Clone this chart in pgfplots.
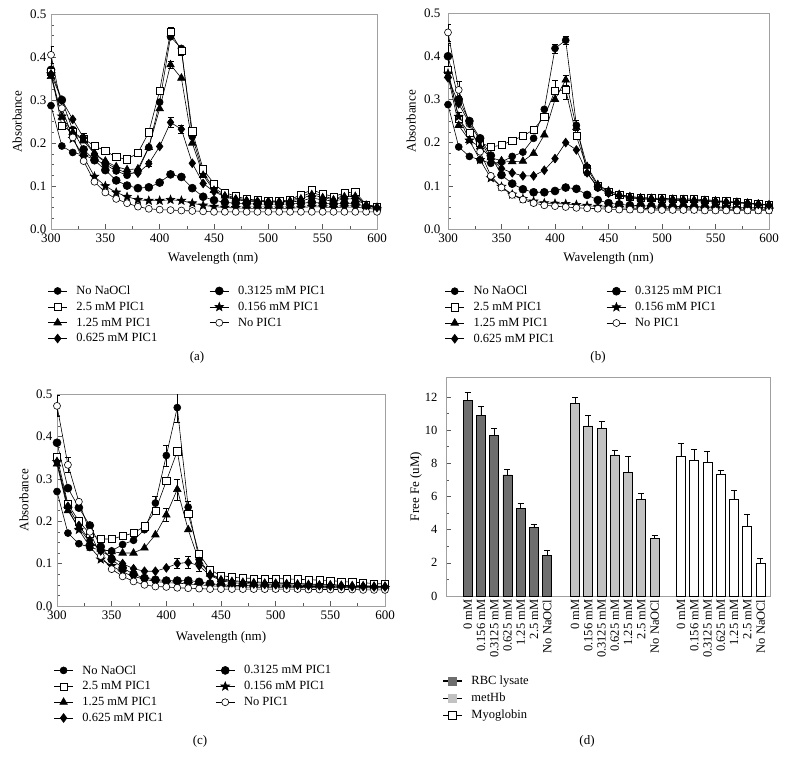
\documentclass[border=0pt]{standalone}
\usepackage{fontspec}
\setmainfont{Liberation Serif}
\usepackage{pgfplots}
\pgfplotsset{compat=1.18}
\usepackage{pgfplotstable}
\usetikzlibrary{plotmarks}
\definecolor{rbc}{HTML}{6E6E6E}
\definecolor{methb}{HTML}{C2C2C2}
\definecolor{frame}{HTML}{A0A0A0}

\pgfdeclareplotmark{fstar}{%
  \pgfpathmoveto{\pgfpointpolar{90}{1.3\pgfplotmarksize}}%
  \pgfpathlineto{\pgfpointpolar{126}{0.55\pgfplotmarksize}}%
  \pgfpathlineto{\pgfpointpolar{162}{1.3\pgfplotmarksize}}%
  \pgfpathlineto{\pgfpointpolar{198}{0.55\pgfplotmarksize}}%
  \pgfpathlineto{\pgfpointpolar{234}{1.3\pgfplotmarksize}}%
  \pgfpathlineto{\pgfpointpolar{270}{0.55\pgfplotmarksize}}%
  \pgfpathlineto{\pgfpointpolar{306}{1.3\pgfplotmarksize}}%
  \pgfpathlineto{\pgfpointpolar{342}{0.55\pgfplotmarksize}}%
  \pgfpathlineto{\pgfpointpolar{18}{1.3\pgfplotmarksize}}%
  \pgfpathlineto{\pgfpointpolar{54}{0.55\pgfplotmarksize}}%
  \pgfpathclose
  \pgfusepathqfillstroke
}

\pgfplotstableread{
x nona p25 p125 p0625 p03125 p0156 nopic
300 0.287 0.365 0.355 0.360 0.370 0.360 0.405
310 0.193 0.240 0.260 0.300 0.300 0.262 0.281
320 0.178 0.225 0.225 0.255 0.230 0.210 0.213
330 0.172 0.210 0.205 0.212 0.185 0.168 0.158
340 0.162 0.193 0.175 0.175 0.160 0.122 0.110
350 0.150 0.182 0.158 0.155 0.137 0.100 0.085
360 0.135 0.167 0.145 0.140 0.113 0.085 0.070
370 0.125 0.162 0.138 0.130 0.101 0.075 0.060
380 0.135 0.177 0.140 0.130 0.095 0.068 0.052
390 0.190 0.225 0.190 0.152 0.097 0.066 0.047
400 0.295 0.322 0.280 0.192 0.108 0.066 0.045
410 0.447 0.458 0.382 0.248 0.127 0.068 0.044
420 0.420 0.415 0.351 0.232 0.121 0.066 0.043
430 0.215 0.227 0.200 0.153 0.095 0.060 0.042
440 0.130 0.139 0.125 0.106 0.075 0.055 0.041
450 0.095 0.105 0.090 0.087 0.067 0.052 0.040
460 0.080 0.085 0.077 0.075 0.062 0.050 0.040
470 0.072 0.076 0.070 0.068 0.060 0.049 0.040
480 0.068 0.070 0.066 0.065 0.059 0.048 0.040
490 0.066 0.067 0.064 0.064 0.058 0.048 0.040
500 0.065 0.066 0.063 0.063 0.058 0.048 0.040
510 0.064 0.065 0.063 0.062 0.058 0.048 0.040
520 0.066 0.068 0.065 0.063 0.058 0.048 0.040
530 0.075 0.080 0.070 0.065 0.060 0.050 0.040
540 0.085 0.091 0.080 0.072 0.062 0.052 0.040
550 0.077 0.082 0.073 0.068 0.060 0.051 0.040
560 0.070 0.075 0.068 0.065 0.058 0.050 0.040
570 0.078 0.084 0.075 0.070 0.060 0.051 0.040
580 0.080 0.086 0.076 0.070 0.060 0.051 0.040
590 0.056 0.057 0.055 0.055 0.052 0.048 0.040
600 0.052 0.052 0.050 0.050 0.050 0.046 0.040
}\tabA

\pgfplotstableread{
x nona p25 p125 p0625 p03125 p0156 nopic
300 0.288 0.368 0.355 0.350 0.400 0.360 0.455
310 0.190 0.255 0.240 0.290 0.300 0.260 0.322
320 0.168 0.222 0.205 0.245 0.250 0.205 0.243
330 0.160 0.200 0.190 0.205 0.210 0.160 0.179
340 0.152 0.190 0.165 0.163 0.170 0.118 0.123
350 0.155 0.194 0.158 0.140 0.125 0.098 0.096
360 0.168 0.205 0.156 0.130 0.105 0.080 0.079
370 0.178 0.215 0.157 0.123 0.092 0.070 0.068
380 0.210 0.230 0.175 0.123 0.085 0.064 0.060
390 0.277 0.260 0.218 0.136 0.085 0.060 0.055
400 0.418 0.320 0.300 0.163 0.088 0.059 0.053
410 0.437 0.322 0.345 0.200 0.096 0.058 0.051
420 0.240 0.215 0.235 0.183 0.093 0.056 0.049
430 0.130 0.140 0.145 0.130 0.079 0.054 0.048
440 0.095 0.100 0.103 0.097 0.067 0.052 0.047
450 0.083 0.087 0.088 0.083 0.060 0.050 0.046
460 0.077 0.080 0.080 0.077 0.057 0.049 0.045
470 0.073 0.075 0.075 0.072 0.055 0.048 0.045
480 0.070 0.073 0.072 0.070 0.054 0.048 0.045
490 0.069 0.072 0.071 0.069 0.053 0.047 0.044
500 0.068 0.071 0.070 0.068 0.053 0.047 0.044
510 0.067 0.070 0.069 0.067 0.052 0.047 0.044
520 0.066 0.070 0.068 0.066 0.052 0.047 0.044
530 0.066 0.069 0.067 0.065 0.052 0.046 0.044
540 0.065 0.068 0.066 0.064 0.051 0.046 0.043
550 0.064 0.066 0.065 0.063 0.051 0.046 0.043
560 0.062 0.064 0.063 0.062 0.051 0.046 0.043
570 0.061 0.062 0.062 0.061 0.050 0.045 0.043
580 0.059 0.060 0.060 0.059 0.050 0.045 0.043
590 0.057 0.058 0.058 0.057 0.050 0.045 0.043
600 0.055 0.056 0.056 0.055 0.049 0.045 0.043
}\tabB

\pgfplotstableread{
x nona p25 p125 p0625 p03125 p0156 nopic
300 0.270 0.352 0.335 0.340 0.385 0.340 0.472
310 0.172 0.240 0.225 0.235 0.278 0.230 0.333
320 0.147 0.200 0.185 0.190 0.232 0.180 0.246
330 0.138 0.170 0.150 0.155 0.190 0.140 0.175
340 0.132 0.158 0.135 0.130 0.140 0.110 0.118
350 0.130 0.158 0.128 0.115 0.110 0.095 0.087
360 0.145 0.165 0.125 0.100 0.090 0.080 0.070
370 0.155 0.172 0.125 0.088 0.075 0.070 0.058
380 0.180 0.188 0.137 0.082 0.066 0.063 0.050
390 0.243 0.225 0.168 0.082 0.062 0.058 0.046
400 0.355 0.295 0.215 0.090 0.060 0.055 0.045
410 0.468 0.365 0.275 0.100 0.060 0.054 0.043
420 0.233 0.217 0.180 0.103 0.060 0.052 0.042
430 0.110 0.123 0.105 0.095 0.057 0.050 0.041
440 0.075 0.085 0.075 0.072 0.053 0.048 0.040
450 0.065 0.072 0.062 0.060 0.050 0.046 0.040
460 0.060 0.068 0.058 0.055 0.049 0.045 0.040
470 0.058 0.066 0.056 0.053 0.048 0.045 0.040
480 0.057 0.065 0.055 0.052 0.048 0.044 0.040
490 0.056 0.065 0.054 0.051 0.047 0.044 0.040
500 0.055 0.065 0.054 0.050 0.047 0.044 0.040
510 0.054 0.064 0.053 0.050 0.047 0.044 0.040
520 0.053 0.063 0.052 0.049 0.046 0.044 0.040
530 0.052 0.062 0.051 0.048 0.046 0.043 0.039
540 0.051 0.061 0.050 0.048 0.046 0.043 0.039
550 0.050 0.060 0.050 0.047 0.045 0.043 0.039
560 0.049 0.058 0.049 0.047 0.045 0.043 0.039
570 0.048 0.056 0.048 0.046 0.045 0.043 0.039
580 0.047 0.055 0.048 0.046 0.045 0.043 0.038
590 0.046 0.053 0.047 0.045 0.045 0.043 0.038
600 0.045 0.052 0.047 0.045 0.045 0.043 0.038
}\tabC

\pgfplotsset{
  /pgf/number format/assume math mode=true,
  ser/.style={black, line width=0.6pt, mark options={solid}},
  snona/.style={mark=*, mark size=3.5pt},
  s25/.style={mark=square*, mark size=3.6pt, mark options={fill=white}},
  s125/.style={mark=triangle*, mark size=4.4pt},
  s0625/.style={mark=diamond*, mark size=4.4pt},
  s03125/.style={mark=*, mark size=4pt},
  s0156/.style={mark=fstar, mark size=3.5pt},
  snopic/.style={mark=*, mark size=3.5pt, mark options={fill=white}},
  legimg/.style={legend image code/.code={%
     \draw[line width=0.9pt] (0pt,0pt) -- (19pt,0pt);
     \draw[mark repeat=2, mark phase=2] plot coordinates {(0pt,0pt) (9.5pt,0pt) (19pt,0pt)};
     \path (26pt,0pt);}},
  errs/.style={black, line width=0.5pt, only marks, mark=none,
    error bars/y dir=both, error bars/y explicit,
    error bars/error mark options={rotate=90, mark size=3pt, black, line width=0.5pt}},
  spec/.style={
    scale only axis, anchor=south west,
    xmin=300, xmax=600, ymin=0, ymax=0.5,
    xtick={300,350,400,450,500,550,600}, minor x tick num=1,
    ytick={0,0.1,0.2,0.3,0.4,0.5}, minor y tick num=3,
    tick align=inside, xtick pos=bottom, ytick pos=left,
    axis line style={frame, line width=0.8pt},
    every tick/.style={gray!70!black, line width=0.5pt},
    major tick length=5pt, minor tick length=3pt,
    yticklabel style={/pgf/number format/fixed, /pgf/number format/fixed zerofill, /pgf/number format/precision=1},
    tick label style={font=\fontsize{13}{15}\selectfont},
    xticklabel style={yshift=-1.5pt},
    label style={font=\fontsize{13}{15}\selectfont},
    xlabel={Wavelength (nm)}, ylabel={Absorbance},
    legend columns=2, legend cell align=left,
    legend style={draw=none, fill=none, anchor=north west,
      font=\fontsize{12.5}{13.5}\selectfont, row sep=2pt,
      /tikz/every even column/.append style={column sep=50pt}},
  },
}

\newcommand{\specplots}[1]{%
  \addplot[ser, snona, legimg] table[x=x, y=nona]{#1}; \addlegendentry{No NaOCl}
  \addplot[ser, s03125, legimg] table[x=x, y=p03125]{#1}; \addlegendentry{0.3125 mM PIC1}
  \addplot[ser, s25, legimg] table[x=x, y=p25]{#1}; \addlegendentry{2.5 mM PIC1}
  \addplot[ser, s0156, legimg] table[x=x, y=p0156]{#1}; \addlegendentry{0.156 mM PIC1}
  \addplot[ser, s125, legimg] table[x=x, y=p125]{#1}; \addlegendentry{1.25 mM PIC1}
  \addplot[ser, snopic, legimg] table[x=x, y=nopic]{#1}; \addlegendentry{No PIC1}
  \addplot[ser, s0625, legimg] table[x=x, y=p0625]{#1}; \addlegendentry{0.625 mM PIC1}
}

\begin{document}
\begin{tikzpicture}[font=\fontsize{13}{15}\selectfont]
\path[use as bounding box] (0,0) rectangle (786pt,-766pt);

% ---------- (a)
\begin{axis}[spec, at={(51pt,-229pt)}, width=326pt, height=215pt,
  yticklabel style={xshift=-1pt},
  every axis y label/.style={at={(axis description cs:-0.104,0.5)}, rotate=90, anchor=center},
  every axis x label/.style={at={(axis description cs:0.497,-0.135)}, anchor=center},
  legend style={at={(-0.02,-0.245)}}]
\addplot[forget plot, errs] coordinates {
 (300,0.405) +- (0,0.02) (300,0.370) +- (0,0.015) (330,0.212) +- (0,0.01)
 (340,0.193) +- (0,0.006) (410,0.458) +- (0,0.012) (420,0.415) +- (0,0.01)
 (410,0.382) +- (0,0.008) (410,0.248) +- (0,0.012) (420,0.232) +- (0,0.01)
 (390,0.152) +- (0,0.006)};
\specplots{\tabA}
\end{axis}

% ---------- (b)
\begin{axis}[spec, at={(448pt,-229pt)}, width=321pt, height=216pt,
  yticklabel style={xshift=-4pt},
  every axis y label/.style={at={(axis description cs:-0.115,0.5)}, rotate=90, anchor=center},
  every axis x label/.style={at={(axis description cs:0.5,-0.135)}, anchor=center},
  legend style={at={(-0.02,-0.245)}}]
\addplot[forget plot, errs] coordinates {
 (300,0.455) +- (0,0.02) (300,0.400) +- (0,0.03) (310,0.322) +- (0,0.02)
 (310,0.255) +- (0,0.015) (400,0.418) +- (0,0.01) (410,0.437) +- (0,0.01)
 (400,0.320) +- (0,0.025) (410,0.322) +- (0,0.022) (410,0.345) +- (0,0.012)
 (420,0.240) +- (0,0.012) (430,0.140) +- (0,0.01)};
\specplots{\tabB}
\end{axis}

% ---------- (c)
\begin{axis}[spec, at={(57pt,-606pt)}, width=328pt, height=212pt,
  yticklabel style={xshift=-1pt},
  every axis y label/.style={at={(axis description cs:-0.101,0.5)}, rotate=90, anchor=center},
  every axis x label/.style={at={(axis description cs:0.5,-0.15)}, anchor=center},
  legend style={at={(-0.02,-0.26)}}]
\addplot[forget plot, errs] coordinates {
 (300,0.472) +- (0,0.025) (310,0.333) +- (0,0.018) (390,0.243) +- (0,0.015)
 (400,0.355) +- (0,0.025) (410,0.468) +- (0,0.035) (410,0.365) +- (0,0.01)
 (410,0.275) +- (0,0.025) (400,0.215) +- (0,0.015) (420,0.233) +- (0,0.015)
 (410,0.100) +- (0,0.012) (420,0.103) +- (0,0.015) (430,0.095) +- (0,0.012)};
\specplots{\tabC}
\end{axis}

% ---------- (d)
\begin{axis}[scale only axis, anchor=south west, at={(446pt,-596pt)},
  width=324pt, height=219pt,
  xmin=-1.64, xmax=22.82, ymin=0, ymax=13.2,
  ytick={0,2,4,6,8,10,12}, minor y tick num=1,
  xtick={0,1,2,3,4,5,6,8.1,9.1,10.1,11.1,12.1,13.1,14.1,16.1,17.1,18.1,19.1,20.1,21.1,22.1},
  xticklabels={0 mM,0.156 mM,0.3125 mM,0.625 mM,1.25 mM,2.5 mM,No NaOCl,
               0 mM,0.156 mM,0.3125 mM,0.625 mM,1.25 mM,2.5 mM,No NaOCl,
               0 mM,0.156 mM,0.3125 mM,0.625 mM,1.25 mM,2.5 mM,No NaOCl},
  xticklabel style={rotate=90, anchor=east},
  xtick style={draw=none},
  tick align=inside, ytick pos=left,
  axis line style={frame, line width=0.8pt},
  every tick/.style={gray!70!black, line width=0.5pt},
  major tick length=5pt, minor tick length=3pt,
  tick label style={font=\fontsize{12.5}{14}\selectfont},
  yticklabel style={xshift=-5pt},
  label style={font=\fontsize{13}{15}\selectfont},
  ylabel={Free Fe (uM)},
  every axis y label/.style={at={(axis description cs:-0.093,0.5)}, rotate=90, anchor=center},
  legend columns=1, legend cell align=left,
  legend style={draw=none, fill=none, anchor=north west, at={(-0.02,-0.345)},
    font=\fontsize{12.5}{13.5}\selectfont, row sep=3pt},
  ]
\addplot[forget plot, ybar, bar width=9pt, bar shift=0pt, fill=rbc, draw=black, line width=0.6pt,
  error bars/.cd, y dir=plus, y explicit,
  error bar style={black, line width=0.6pt},
  error mark options={rotate=90, mark size=3pt, black, line width=0.6pt}]
 coordinates {(0,11.8) +- (0,0.5) (1,10.9) +- (0,0.55) (2,9.7) +- (0,0.4)
  (3,7.3) +- (0,0.35) (4,5.3) +- (0,0.3) (5,4.15) +- (0,0.2) (6,2.45) +- (0,0.3)};
\addplot[forget plot, ybar, bar width=9pt, bar shift=0pt, fill=methb, draw=black, line width=0.6pt,
  error bars/.cd, y dir=plus, y explicit,
  error bar style={black, line width=0.6pt},
  error mark options={rotate=90, mark size=3pt, black, line width=0.6pt}]
 coordinates {(8.1,11.6) +- (0,0.35) (9.1,10.25) +- (0,0.65) (10.1,10.1) +- (0,0.45)
  (11.1,8.5) +- (0,0.3) (12.1,7.45) +- (0,0.95) (13.1,5.8) +- (0,0.4) (14.1,3.45) +- (0,0.2)};
\addplot[forget plot, ybar, bar width=9pt, bar shift=0pt, fill=white, draw=black, line width=0.6pt,
  error bars/.cd, y dir=plus, y explicit,
  error bar style={black, line width=0.6pt},
  error mark options={rotate=90, mark size=3pt, black, line width=0.6pt}]
 coordinates {(16.1,8.4) +- (0,0.8) (17.1,8.2) +- (0,0.65) (18.1,8.05) +- (0,0.65)
  (19.1,7.35) +- (0,0.25) (20.1,5.85) +- (0,0.5) (21.1,4.2) +- (0,0.75) (22.1,2.0) +- (0,0.3)};
\addlegendimage{legimg, black, line width=0.6pt, mark=square*, mark size=4pt, mark options={fill=rbc, draw=rbc}}
\addlegendentry{RBC lysate}
\addlegendimage{legimg, black, line width=0.6pt, mark=square*, mark size=4pt, mark options={fill=methb, draw=methb}}
\addlegendentry{metHb}
\addlegendimage{legimg, black, line width=0.6pt, mark=square*, mark size=4pt, mark options={fill=white, draw=black}}
\addlegendentry{Myoglobin}
\end{axis}

\node[font=\fontsize{13}{15}\selectfont] at (197pt,-357pt) {(a)};
\node[font=\fontsize{13}{15}\selectfont] at (598pt,-357pt) {(b)};
\node[font=\fontsize{13}{15}\selectfont] at (200pt,-741pt) {(c)};
\node[font=\fontsize{13}{15}\selectfont] at (587pt,-741pt) {(d)};
\end{tikzpicture}
\end{document}
